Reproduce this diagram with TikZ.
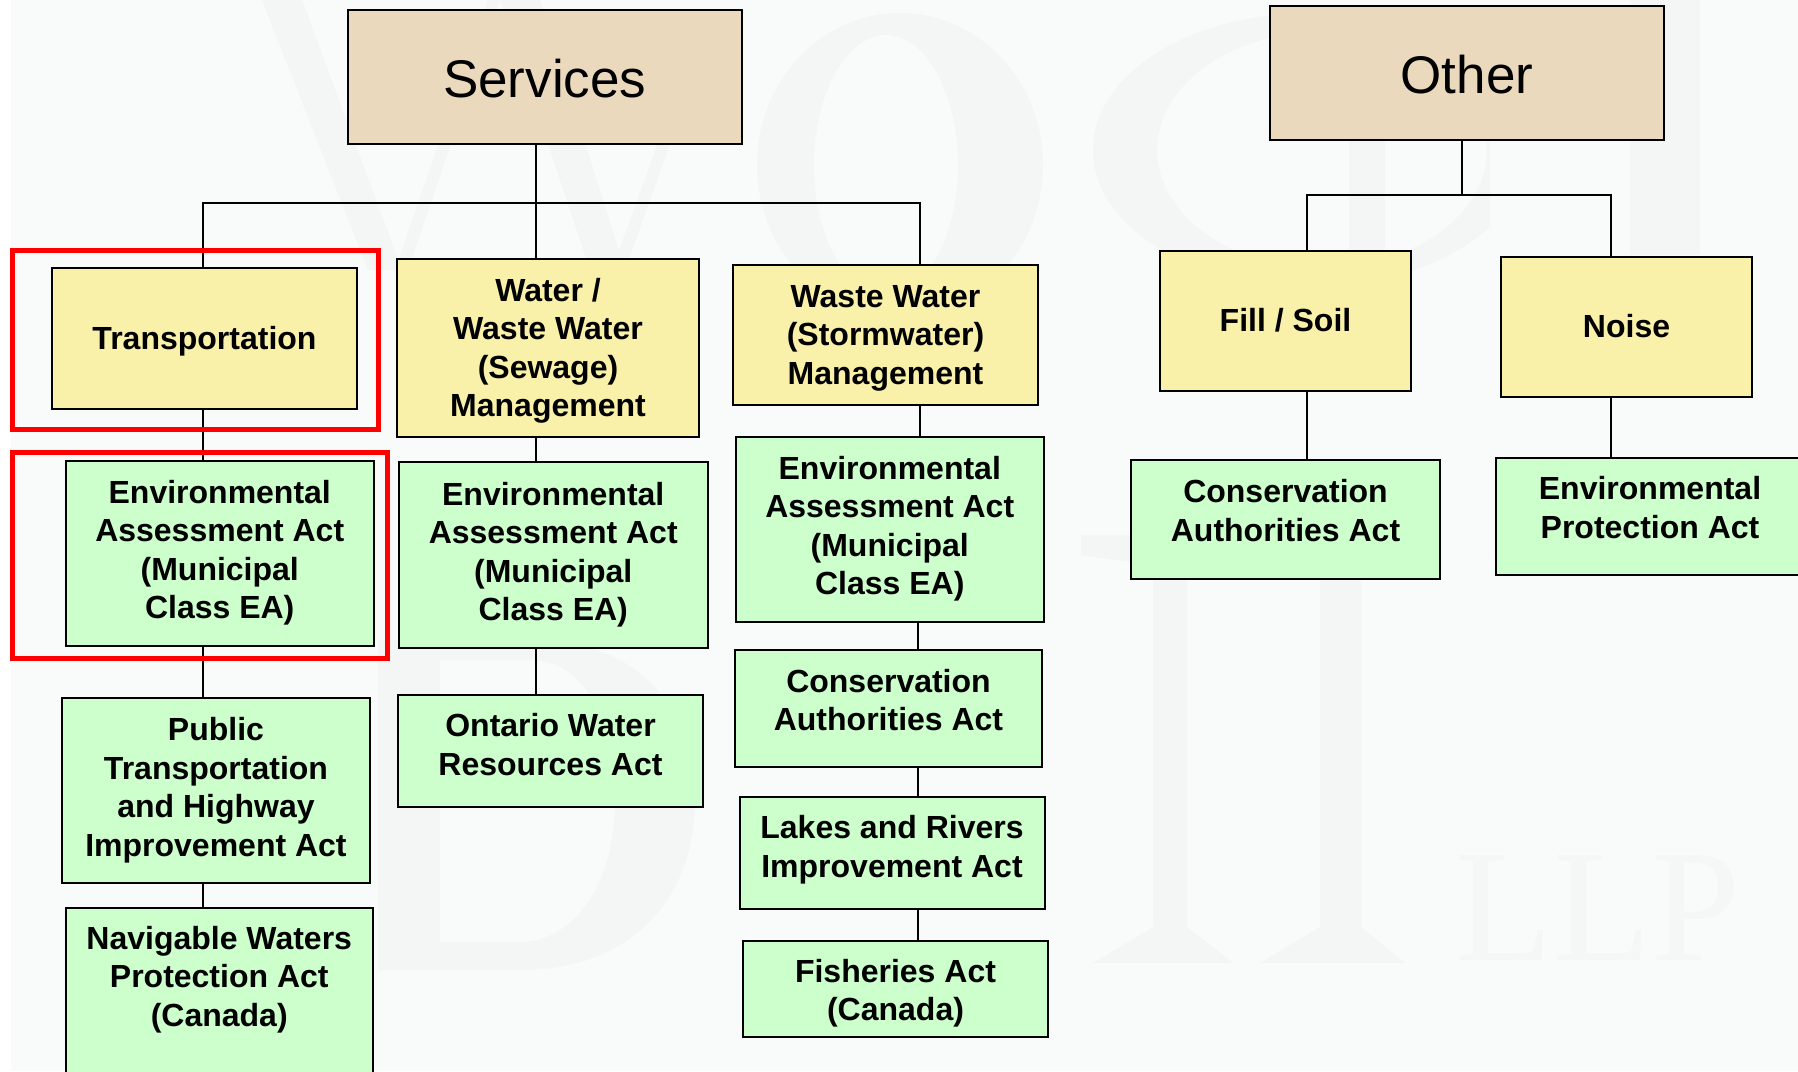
\documentclass[tikz,border=0pt]{standalone}
\usepackage{fontspec}
\setmainfont{Liberation Sans}
\newfontfamily\wmfont{Liberation Serif}
\definecolor{pagebg}{HTML}{F9FBFA}
\definecolor{wmark}{HTML}{F4F5F5}
\definecolor{wmtext}{HTML}{F5F6F6}
\definecolor{tanfill}{HTML}{EAD9BC}
\definecolor{yelfill}{HTML}{F9F0A9}
\definecolor{grnfill}{HTML}{CCFFCC}
\definecolor{redbox}{HTML}{FF0000}
\newcommand{\tx}[2][0]{\raisebox{\dimexpr #1pt-9.5pt\relax}[0pt][0pt]{\begin{tabular}[c]{@{}c@{}}#2\end{tabular}}}
\tikzset{
  base/.style={draw=black,line width=2pt,inner sep=0pt,outer sep=0pt,text=black},
  tanbox/.style={base,fill=tanfill,font=\fontsize{53}{60}\selectfont},
  yelbox/.style={base,fill=yelfill,font=\fontsize{32}{38.5}\selectfont\bfseries},
  grnbox/.style={base,fill=grnfill,font=\fontsize{32}{38.5}\selectfont\bfseries},
  conn/.style={draw=black,line width=2pt},
  hilite/.style={draw=redbox,line width=5pt},
  wmshape/.style={fill=wmark,draw=none,even odd rule}
}
% name, style, x0,y0,x1,y1, shift, text
\newcommand{\bx}[8]{\node[#2,minimum width=\dimexpr #5pt-#3pt\relax,minimum height=\dimexpr #6pt-#4pt\relax] (#1) at ({(#3+#5)/2},{(#4+#6)/2}) {\tx[#7]{#8}};}
\begin{document}
\begin{tikzpicture}[x=1pt,y=-1pt]
\useasboundingbox (0,0) rectangle (1798,1071);
\clip (0,0) rectangle (1798,1071);
\fill[white] (0,0) rectangle (1798,1071);
\fill[pagebg] (11,0) rectangle (1798,1071);
% watermark monogram
\fill[wmshape] (262,0) -- (302,0) -- (402,270) -- (368,270) -- cycle;
\fill[wmshape] (395,270) -- (408,270) -- (500,0) -- (488,0) -- cycle;
\fill[wmshape] (500,0) -- (540,0) -- (625,270) -- (590,270) -- cycle;
\fill[wmshape] (612,270) -- (625,270) -- (700,60) -- (688,60) -- cycle;
\fill[wmshape] (900,165) ellipse [x radius=143,y radius=152] (886,165) ellipse [x radius=72,y radius=130];
\begin{scope}
\clip (1000,0) rectangle (1490,300);
\fill[wmshape] (1310,150) ellipse [x radius=217,y radius=137] (1322,150) ellipse [x radius=165,y radius=118];
\end{scope}
\fill[wmshape] (1349,140) rectangle (1385,260);
\fill[wmshape] (1630,0) rectangle (1700,255);
\fill[wmshape] (378,640) -- (530,640) .. controls (650,640) and (695,720) .. (695,800) .. controls (695,900) and (630,970) .. (520,970) -- (378,970) -- cycle
  (440,660) -- (530,660) .. controls (590,660) and (615,730) .. (615,800) .. controls (615,890) and (570,942) .. (520,942) -- (440,942) -- cycle;
\fill[wmshape] (1081,535) -- (1240,535) -- (1240,555) -- (1187,565) -- (1187,927) -- (1233,963) -- (1093,963) -- (1153,927) -- (1153,565) -- (1081,555) -- cycle;
\fill[wmshape] (1258,535) -- (1410,535) -- (1410,555) -- (1361,565) -- (1361,927) -- (1405,963) -- (1260,963) -- (1320,927) -- (1320,565) -- (1258,555) -- cycle;
\node[text=wmtext,font=\wmfont\fontsize{160}{160}\selectfont,inner sep=0pt,outer sep=0pt] (wmL) at (1598,908) {LLP};
% junctions
\coordinate (busL) at (203,203);
\coordinate (busM) at (535.5,203);
\coordinate (busR) at (919.5,203);
\coordinate (otherM) at (1462,195);
\coordinate (otherL) at (1307,195);
\coordinate (otherR) at (1611,195);
% boxes
\bx{svc}{tanbox}{347.5}{10}{742}{144}{-5.5}{Services}
\bx{oth}{tanbox}{1270}{6}{1664}{140}{-5.5}{Other}
\bx{trans}{yelbox}{52}{268}{357}{408.5}{0}{Transportation}
\bx{water}{yelbox}{397}{259}{699}{437}{0}{Water /\\Waste Water\\(Sewage)\\Management}
\bx{waste}{yelbox}{733}{265}{1038}{405}{0}{Waste Water\\(Stormwater)\\Management}
\bx{fill}{yelbox}{1160}{251}{1411}{391}{0}{Fill / Soil}
\bx{noise}{yelbox}{1501}{257}{1752}{397}{0}{Noise}
\bx{envA}{grnbox}{65.5}{461}{374}{645.5}{3}{Environmental\\Assessment Act\\(Municipal\\Class EA)}
\bx{pub}{grnbox}{62}{698}{370}{883}{3}{Public\\Transportation\\and Highway\\Improvement Act}
\bx{nav}{grnbox}{65.5}{908}{373}{1084}{0}{Navigable Waters\\Protection Act\\(Canada)\\\mbox{}}
\bx{envB}{grnbox}{399}{462}{707.5}{648}{3}{Environmental\\Assessment Act\\(Municipal\\Class EA)}
\bx{ont}{grnbox}{398}{695}{703}{807}{6}{Ontario Water\\Resources Act}
\bx{envC}{grnbox}{736}{437}{1043.5}{621.5}{3}{Environmental\\Assessment Act\\(Municipal\\Class EA)}
\bx{consC}{grnbox}{735}{650}{1042}{767}{8}{Conservation\\Authorities Act}
\bx{lakes}{grnbox}{739.5}{797}{1044.5}{909}{6}{Lakes and Rivers\\Improvement Act}
\bx{fish}{grnbox}{743}{941}{1048}{1036.5}{-2}{Fisheries Act\\(Canada)}
\bx{consF}{grnbox}{1131}{460}{1440}{578.5}{8}{Conservation\\Authorities Act}
\bx{epa}{grnbox}{1496}{457.5}{1804}{575}{8}{Environmental\\Protection Act}
% connectors
\draw[conn,line cap=rect] (busL) -- (busR);
\draw[conn] (svc.south -| busM) -- (water.north -| busM);
\draw[conn] (busL) -- (trans.north -| busL);
\draw[conn] (busR) -- (waste.north -| busR);
\draw[conn] (trans.south -| busL) -- (envA.north -| busL);
\draw[conn] (envA.south -| busL) -- (pub.north -| busL);
\draw[conn] (pub.south -| busL) -- (nav.north -| busL);
\draw[conn] (water.south -| busM) -- (envB.north -| busM);
\draw[conn] (envB.south -| busM) -- (ont.north -| busM);
\draw[conn] (waste.south -| busR) -- (envC.north -| busR);
\draw[conn] ([xshift=-2pt]envC.south -| busR) -- ([xshift=-2pt]consC.north -| busR);
\draw[conn] ([xshift=-2pt]consC.south -| busR) -- ([xshift=-2pt]lakes.north -| busR);
\draw[conn] ([xshift=-2pt]lakes.south -| busR) -- ([xshift=-2pt]fish.north -| busR);
\draw[conn] (oth.south -| otherM) -- (otherM);
\draw[conn,line cap=rect] (otherL) -- (otherR);
\draw[conn] (otherL) -- (fill.north -| otherL);
\draw[conn] (otherR) -- (noise.north -| otherR);
\draw[conn] (fill.south -| otherL) -- (consF.north -| otherL);
\draw[conn] (noise.south -| otherR) -- (epa.north -| otherR);
% highlights
\draw[hilite] (12.5,250.5) rectangle (378,429.5);
\draw[hilite] (12.5,452.5) rectangle (387,658);
\end{tikzpicture}
\end{document}
